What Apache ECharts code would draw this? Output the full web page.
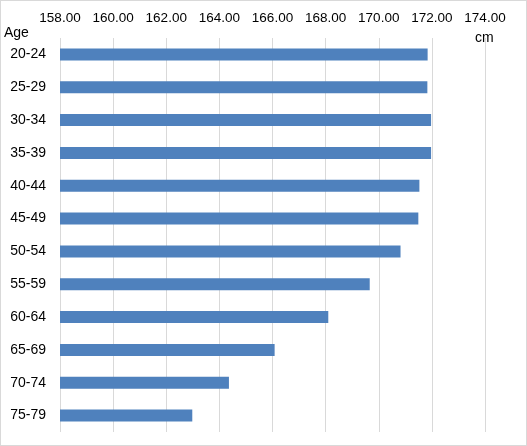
<!DOCTYPE html>
<html>
<head>
<meta charset="utf-8">
<script src="https://cdn.jsdelivr.net/npm/echarts@6/dist/echarts.min.js"></script>
<style>
html,body{margin:0;padding:0;background:#fff;}
#c{width:525px;height:444px;border:1px solid #d9d9d9;}
</style>
</head>
<body>
<div id="c"></div>
<script>
const categories = ['20-24','25-29','30-34','35-39','40-44','45-49','50-54','55-59','60-64','65-69','70-74','75-79'];
const heights = [171.84,171.83,171.97,171.97,171.53,171.49,170.82,169.66,168.10,166.08,164.36,162.98];
const axisMin = 158, axisMax = 174, axisStep = 2;

const chart = echarts.init(document.getElementById('c'));
const font = 'Liberation Sans, Arial, sans-serif';
chart.setOption({
  animation: false,
  grid: {left: 59, right: 41, top: 37, bottom: 13},
  xAxis: {
    type: 'value', position: 'top', min: axisMin, max: axisMax, interval: axisStep,
    axisLine: {show: false}, axisTick: {show: false},
    splitLine: {lineStyle: {color: '#d9d9d9', width: 1}},
    axisLabel: {color: '#000', fontSize: 13.5, fontFamily: font, margin: 13,
      formatter: v => v.toFixed(2)}
  },
  yAxis: {
    type: 'category', data: categories, inverse: true,
    axisLine: {show: false}, axisTick: {show: false},
    axisLabel: {color: '#000', fontSize: 14, fontFamily: font, margin: 14}
  },
  graphic: [
    {type: 'text', left: 3, top: 25, style: {text: 'Age', fill: '#000', font: '14px ' + font}},
    {type: 'text', left: 474, top: 30, style: {text: 'cm', fill: '#000', font: '14px ' + font}}
  ],
  series: [{
    type: 'bar', data: heights, barWidth: 12,
    itemStyle: {color: '#4f81bd'}
  }]
});
</script>
</body>
</html>
